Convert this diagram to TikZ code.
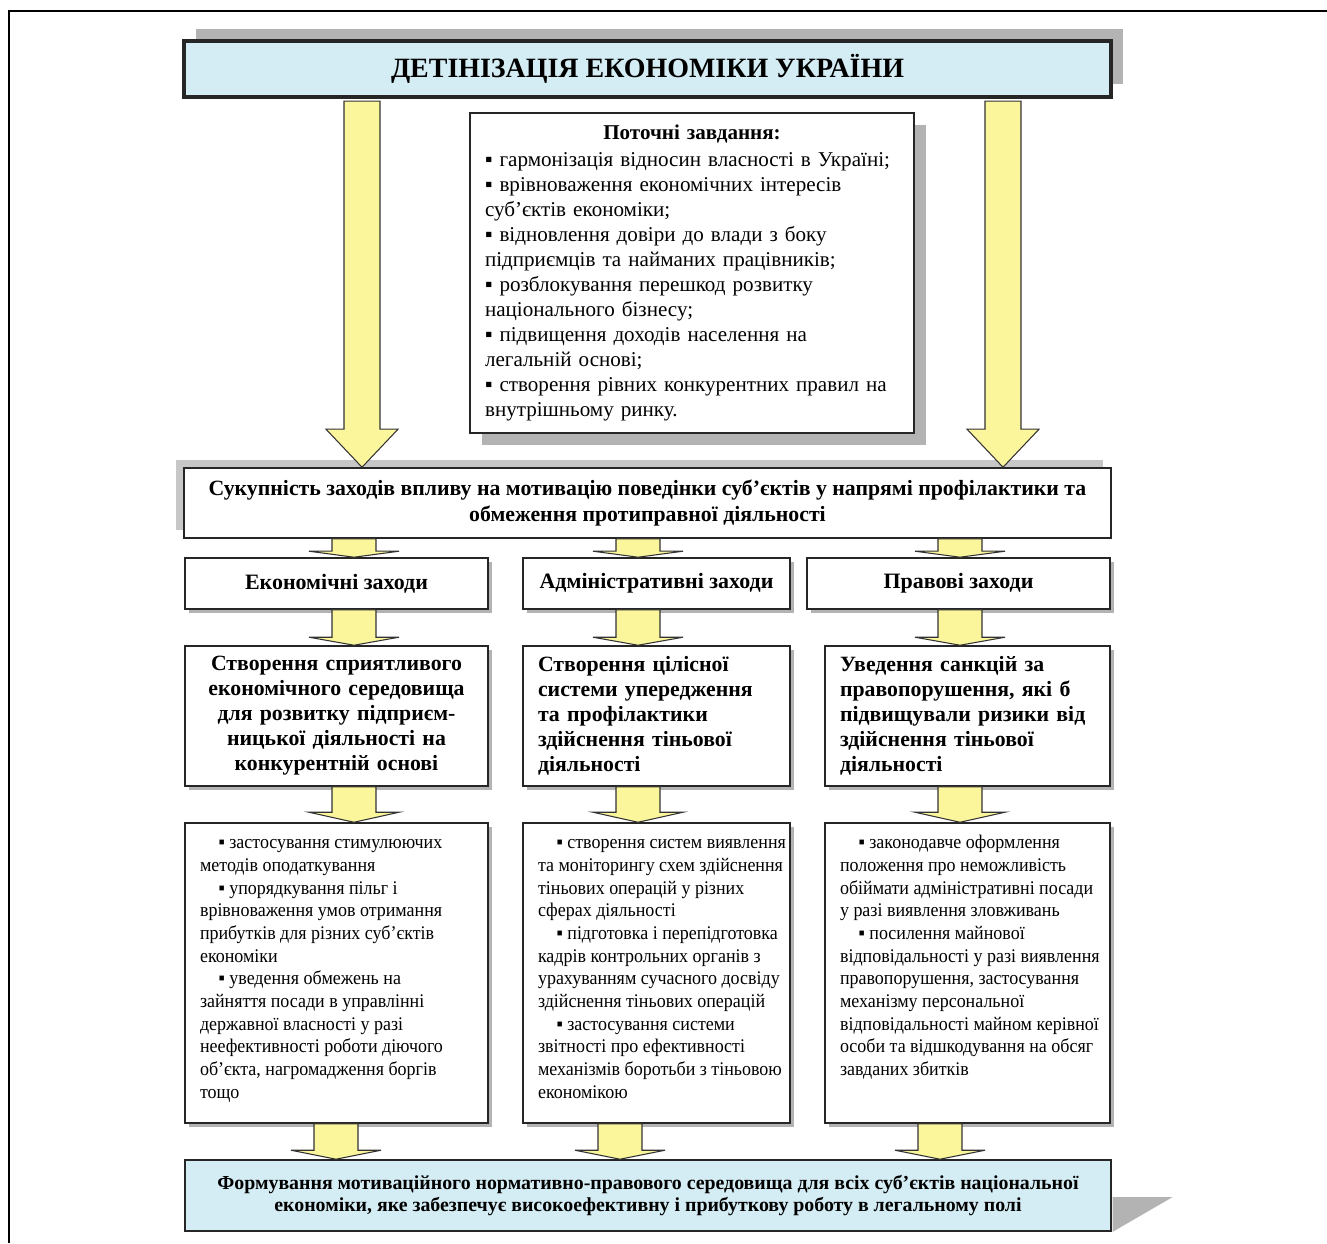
\documentclass[tikz,border=0pt]{standalone}
\usepackage{fontspec}
\setmainfont{Liberation Serif}
\newfontfamily\narrowfont[FakeStretch=0.93]{Liberation Serif}
\usepackage{xcolor}
\usetikzlibrary{calc,positioning,shadows}

\definecolor{titleblue}{HTML}{D4ECF3}
\definecolor{arrowyellow}{HTML}{FBF59C}
\definecolor{shadowgray}{HTML}{B3B3B3}

\tikzset{
  box/.style={draw=black!85, line width=0.9pt, fill=white, inner sep=0pt, align=center},
  hdr/.style={minimum height=1.02cm, font=\fontsize{12.5}{14.2}\selectfont\bfseries,
    drop shadow={shadow xshift=0.08cm, shadow yshift=-0.08cm, fill=shadowgray, opacity=1}},
  goalbox/.style={minimum height=2.8cm, font=\fontsize{12.4}{14.2}\selectfont\bfseries,
    drop shadow={shadow xshift=0.08cm, shadow yshift=-0.08cm, fill=shadowgray, opacity=1}},
  listbox/.style={minimum height=6cm, font=\narrowfont\fontsize{11}{12.9}\selectfont,
    drop shadow={shadow xshift=0.08cm, shadow yshift=-0.08cm, fill=shadowgray, opacity=1}},
  yarrow/.style={draw=black!80, line width=0.6pt, fill=arrowyellow},
}

% block arrow: start, tip, shaft half width, head half width, head length
\newcommand\fatarrow[5]{%
  \draw[yarrow] ($(#1)+(-#3,0)$) -- ($(#2)+(-#3,-#5)$) -- ($(#2)+(-#4,-#5)$)
    -- (#2) -- ($(#2)+(#4,-#5)$) -- ($(#2)+(#3,-#5)$) -- ($(#1)+(#3,0)$) -- cycle;}
\newcommand\sqitem{\hspace*{0.37cm}▪\ }
% fixed block of lines, top aligned: width, lines
\newcommand\listtext[2]{\parbox[t][5.6cm][t]{#1}{\begin{tabular}[t]{@{}l@{}}#2\end{tabular}}}

\begin{document}
\begin{tikzpicture}[x=0.02cm, y=-0.02cm]
\useasboundingbox (0,0) rectangle (1327,1243);
\draw[line width=1.2pt] (9,1243) -- (9,11) -- (1327,11);

% top
\node[box, line width=2.4pt, fill=titleblue, minimum width=18.54cm, minimum height=1.12cm,
  drop shadow={shadow xshift=0.24cm, shadow yshift=0.25cm, fill=shadowgray, opacity=1},
  font=\fontsize{15.9}{18}\selectfont\bfseries] (title) at (647.5,69) {ДЕТІНІЗАЦІЯ ЕКОНОМІКИ УКРАЇНИ};

\node[box, minimum width=8.88cm, minimum height=6.4cm, text width=8.28cm, align=left,
  drop shadow={shadow xshift=0.24cm, shadow yshift=-0.24cm, fill=shadowgray, opacity=1},
  font=\fontsize{12}{14.2}\selectfont] (tasks) at (692,273) {%
  \makebox[8.28cm]{\bfseries Поточні завдання:}\\[1pt]
  ▪ гармонізація відносин власності в Україні;\\
  ▪ врівноваження економічних інтересів\\
  суб’єктів економіки;\\
  ▪ відновлення довіри до влади з боку\\
  підприємців та найманих працівників;\\
  ▪ розблокування перешкод розвитку\\
  національного бізнесу;\\
  ▪ підвищення доходів населення на\\
  легальній основі;\\
  ▪ створення рівних конкурентних правил на\\
  внутрішньому ринку.};

\node[box, minimum width=18.54cm, minimum height=1.4cm, font=\fontsize{12.4}{14.6}\selectfont\bfseries,
  drop shadow={shadow xshift=-0.16cm, shadow yshift=0.16cm, fill=black!22, opacity=1}] (sum) at (647.5,503)
  {Сукупність заходів впливу на мотивацію поведінки суб’єктів у напрямі профілактики та\\
   обмеження протиправної діяльності};

% measures
\node[box, hdr, minimum width=6.06cm] (econ) at (336.5,583.5) {Економічні заходи};
\node[box, hdr, minimum width=5.34cm] (admin) at (656.5,583.5) {Адміністративні заходи};
\node[box, hdr, minimum width=6.06cm] (legal) at (958.5,583.5) {Правові заходи};

\node[box, goalbox, minimum width=6.06cm, text width=5.46cm] (econgoal) at (336.5,716)
  {Створення сприятливого\\економічного середовища\\для розвитку підприєм-\\ницької діяльності на\\конкурентній основі};
\node[box, goalbox, minimum width=5.34cm, text width=4.74cm, align=left] (admingoal) at (656.5,716)
  {Створення цілісної\\системи упередження\\та профілактики\\здійснення тіньової\\діяльності};
\node[box, goalbox, minimum width=5.7cm, text width=5.1cm, align=left] (legalgoal) at (967.5,716)
  {Уведення санкцій за\\правопорушення, які б\\підвищували ризики від\\здійснення тіньової\\діяльності};

\node[box, listbox, minimum width=6.06cm] (econlist) at (336.5,973) {\listtext{5.46cm}{%
  \sqitem застосування стимулюючих\\
  методів оподаткування\\
  \sqitem упорядкування пільг і\\
  врівноваження умов отримання\\
  прибутків для різних суб’єктів\\
  економіки\\
  \sqitem уведення обмежень на\\
  зайняття посади в управлінні\\
  державної власності у разі\\
  неефективності роботи діючого\\
  об’єкта, нагромадження боргів\\
  тощо}};
\node[box, listbox, minimum width=5.34cm] (adminlist) at (656.5,973) {\listtext{4.74cm}{%
  \sqitem створення систем виявлення\\
  та моніторингу схем здійснення\\
  тіньових операцій у різних\\
  сферах діяльності\\
  \sqitem підготовка і перепідготовка\\
  кадрів контрольних органів з\\
  урахуванням сучасного досвіду\\
  здійснення тіньових операцій\\
  \sqitem застосування системи\\
  звітності про ефективності\\
  механізмів боротьби з тіньовою\\
  економікою}};
\node[box, listbox, minimum width=5.7cm] (legallist) at (967.5,973) {\listtext{5.1cm}{%
  \sqitem законодавче оформлення\\
  положення про неможливість\\
  обіймати адміністративні посади\\
  у разі виявлення зловживань\\
  \sqitem посилення майнової\\
  відповідальності у разі виявлення\\
  правопорушення, застосування\\
  механізму персональної\\
  відповідальності майном керівної\\
  особи та відшкодування на обсяг\\
  завданих збитків}};

% result
\node[box, fill=titleblue, minimum width=18.52cm, minimum height=1.42cm,
  font=\fontsize{11.3}{12.5}\selectfont\bfseries] (final) at (648,1195.5)
  {Формування мотиваційного нормативно-правового середовища для всіх суб’єктів національної\\
   економіки, яке забезпечує високоефективну і прибуткову роботу в легальному полі};
\fill[shadowgray] ($(final.east)+(1,1.5)$) -- ++(60,0) -- ($(final.south east)+(1,0)$) -- cycle;

% arrows
\coordinate (bigL) at (362,0);
\coordinate (bigR) at (1003,0);
\coordinate (colA) at (354,0);
\coordinate (colB) at (638,0);
\coordinate (colC) at (960,0);
\coordinate (botA) at (336,0);
\coordinate (botB) at (620,0);
\coordinate (botC) at (940,0);
\path (title.south -| bigL) ++(0,2) coordinate (bigLs);
\path (title.south -| bigR) ++(0,2) coordinate (bigRs);
\fatarrow{bigLs}{sum.north -| bigL}{18}{36}{38}
\fatarrow{bigRs}{sum.north -| bigR}{18}{36}{38}
\foreach \hd/\gl/\ls/\cx/\bx in {econ/econgoal/econlist/colA/botA,
    admin/admingoal/adminlist/colB/botB, legal/legalgoal/legallist/colC/botC} {
  \fatarrow{sum.south -| \cx}{\hd.north -| \cx}{22}{45}{6}
  \fatarrow{\hd.south -| \cx}{\gl.north -| \cx}{22}{45}{8}
  \fatarrow{\gl.south -| \cx}{\ls.north -| \cx}{22}{45}{10}
  \fatarrow{\ls.south -| \bx}{final.north -| \bx}{22}{45}{9}
}
\end{tikzpicture}
\end{document}
